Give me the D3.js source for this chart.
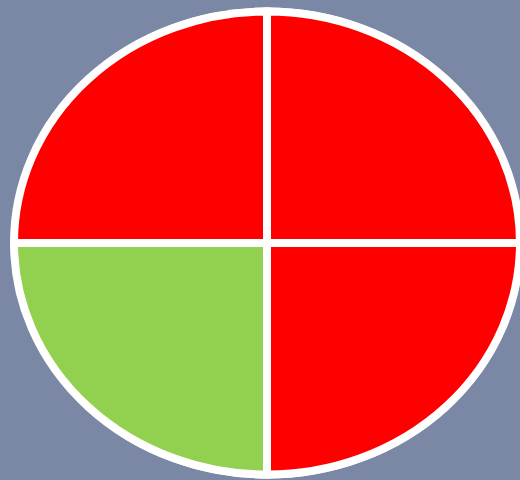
<!DOCTYPE html>
<html>
<head>
<meta charset="utf-8">
<script src="https://cdn.jsdelivr.net/npm/d3@7"></script>
<style>
  html, body { margin: 0; padding: 0; background: #7a88a6; }
  svg { display: block; }
</style>
</head>
<body>
<div id="chart"></div>
<script>
// quadrants, clockwise from 12 o'clock
const categories = ['Top right', 'Bottom right', 'Bottom left', 'Top left'];
const values = [1, 1, 1, 1];
const colors = ['#ff0000', '#ff0000', '#92d050', '#ff0000'];

const width = 520;
const height = 480;
const cx = 267;
const cy = 243;
const rx = 253;
const ry = 231.5;

const svg = d3.select('#chart').append('svg')
  .attr('width', width)
  .attr('height', height);

// white outer rim
svg.append('ellipse')
  .attr('cx', cx)
  .attr('cy', cy)
  .attr('rx', rx + 3)
  .attr('ry', ry + 4)
  .attr('fill', '#ffffff');

const pie = d3.pie().sort(null).value((d) => d.value);
const arc = d3.arc().innerRadius(0).outerRadius(1);

const data = categories.map((c, i) => ({ name: c, value: values[i], color: colors[i] }));

svg.append('g')
  .attr('transform', `translate(${cx},${cy}) scale(${rx},${ry})`)
  .selectAll('path')
  .data(pie(data))
  .enter()
  .append('path')
  .attr('d', arc)
  .attr('fill', (d) => d.data.color)
  .attr('stroke', '#ffffff')
  .attr('stroke-width', 8)
  .attr('vector-effect', 'non-scaling-stroke')
  .append('title')
  .text((d) => d.data.name);
</script>
</body>
</html>
